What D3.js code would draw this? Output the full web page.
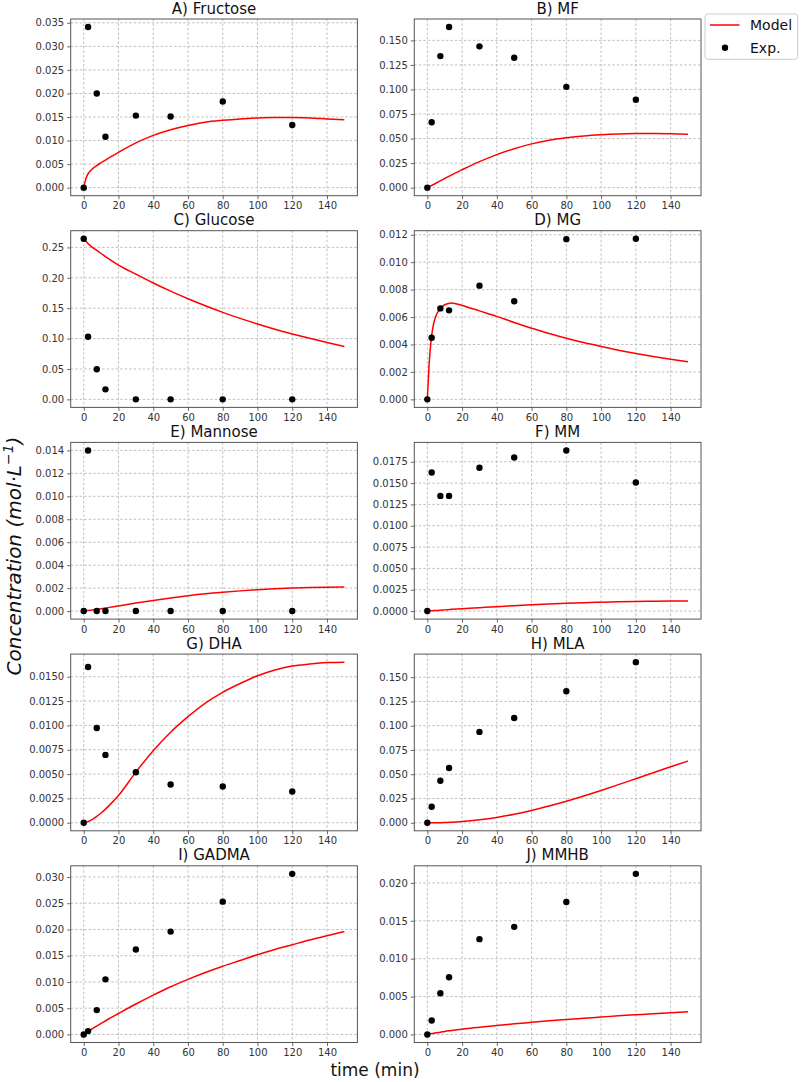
<!DOCTYPE html>
<html>
<head>
<meta charset="utf-8">
<script src="https://cdn.jsdelivr.net/npm/d3@7"></script>
<style>
  html, body { margin: 0; padding: 0; background: #fff; }
  svg { display: block; font-family: "DejaVu Sans", sans-serif; }
</style>
</head>
<body>
<svg id="chart" width="801" height="1082"></svg>
<script>
// ---- data ----
const panelTitles = ["A) Fructose", "B) MF", "C) Glucose", "D) MG", "E) Mannose",
                     "F) MM", "G) DHA", "H) MLA", "I) GADMA", "J) MMHB"];
const expTime = [0, 2.5, 7.5, 12.5, 30, 50, 80, 120];
const expFructose = [0, 0.0341, 0.0200, 0.0108, 0.0153, 0.0151, 0.0183, 0.0133];
const expMF       = [0, 0.0667, 0.134, 0.1636, 0.1439, 0.1323, 0.1027, 0.0895];
const expGlucose  = [0.2643, 0.103, 0.0496, 0.0165, 0, 0, 0, 0];
const expMG       = [0, 0.00449, 0.00663, 0.00649, 0.00829, 0.00715, 0.01168, 0.01171];
const expMannose  = [0, 0.0140, 0, 0, 0, 0, 0, 0];
const expMM       = [0, 0.01625, 0.0135, 0.0135, 0.0168, 0.0180, 0.01883, 0.01507];
const expDHA      = [0, 0.0160, 0.00974, 0.00697, 0.00519, 0.00393, 0.00372, 0.00321];
const expMLA      = [0, 0.0165, 0.0433, 0.0564, 0.0936, 0.108, 0.1355, 0.1655];
const expGADMA    = [0, 0.00064, 0.00464, 0.0105, 0.0162, 0.0196, 0.0253, 0.0306];
const expMMHB     = [0, 0.00185, 0.00543, 0.00755, 0.01258, 0.0142, 0.01748, 0.0212];

const modelTime = [0, 1, 2, 3, 5, 7.5, 10, 14, 20, 30, 40, 50, 60, 70, 80, 90, 100, 110, 120, 130, 140, 150];
const modFructose = [0, 0.0016, 0.0026, 0.0032, 0.0040, 0.0047, 0.0053, 0.0062, 0.0075, 0.0095, 0.0111, 0.0123, 0.0132, 0.0139, 0.0143, 0.0146, 0.0148, 0.0149, 0.0149, 0.0148, 0.0146, 0.0144];
const modMF       = [0, 0.0009, 0.0018, 0.0027, 0.0045, 0.0070, 0.0093, 0.0130, 0.0182, 0.0265, 0.0337, 0.0397, 0.0446, 0.0483, 0.0508, 0.0527, 0.0539, 0.0547, 0.0551, 0.0552, 0.0550, 0.0545];
const modGlucose  = [0.264, 0.261, 0.258, 0.255, 0.250, 0.245, 0.240, 0.232, 0.221, 0.206, 0.1915, 0.178, 0.1655, 0.154, 0.1432, 0.1332, 0.124, 0.1155, 0.1077, 0.1004, 0.0935, 0.087];
const modMG       = [0, 0.0025, 0.0041, 0.0051, 0.0061, 0.0066, 0.0069, 0.00703, 0.00685, 0.00645, 0.00605, 0.0056, 0.00519, 0.0048, 0.00446, 0.00414, 0.00385, 0.00358, 0.00334, 0.00312, 0.00292, 0.00274];
const modMannose  = [0, 0.00002, 0.00004, 0.00006, 0.0001, 0.00015, 0.0002, 0.0003, 0.00045, 0.0007, 0.00093, 0.00114, 0.00133, 0.0015, 0.00164, 0.00176, 0.00186, 0.00194, 0.0020, 0.00205, 0.00208, 0.0021];
const modMM       = [0, 0.000015, 0.00003, 0.000045, 0.00007, 0.0001, 0.00014, 0.0002, 0.00028, 0.0004, 0.00052, 0.00063, 0.00074, 0.00083, 0.00091, 0.00098, 0.00104, 0.00109, 0.00113, 0.00115, 0.00117, 0.00118];
const modDHA      = [0, 0.00003, 0.00009, 0.00016, 0.00035, 0.00065, 0.0010, 0.00166, 0.0028, 0.0052, 0.0074, 0.0093, 0.0109, 0.0123, 0.0134, 0.0143, 0.0151, 0.0157, 0.0161, 0.0163, 0.01645, 0.0165];
const modMLA      = [0, 0, 0.00001, 0.00002, 0.00006, 0.00013, 0.00025, 0.0005, 0.0012, 0.0030, 0.0055, 0.0088, 0.0127, 0.0172, 0.0221, 0.0275, 0.0333, 0.0393, 0.0454, 0.0515, 0.0577, 0.0636];
const modGADMA    = [0, 0.0002, 0.0004, 0.0006, 0.0011, 0.0016, 0.0021, 0.0029, 0.0040, 0.0058, 0.0075, 0.0091, 0.0105, 0.0118, 0.0130, 0.0141, 0.0152, 0.0162, 0.0171, 0.0180, 0.0188, 0.0196];
const modMMHB     = [0, 0.00005, 0.0001, 0.00014, 0.00022, 0.0003, 0.0004, 0.00052, 0.0007, 0.00095, 0.00118, 0.0014, 0.0016, 0.0018, 0.00198, 0.00214, 0.0023, 0.00246, 0.0026, 0.00274, 0.00287, 0.0030];

const xTicks = [0, 20, 40, 60, 80, 100, 120, 140];
const yTickStep = [0.005, 0.025, 0.05, 0.002, 0.002, 0.0025, 0.0025, 0.025, 0.005, 0.005];
const yTickDecimals = [3, 3, 2, 3, 3, 4, 4, 3, 3, 3];
const legendLabels = ["Model", "Exp."];

const expSeries = [expFructose, expMF, expGlucose, expMG, expMannose, expMM, expDHA, expMLA, expGADMA, expMMHB];
const modSeries = [modFructose, modMF, modGlucose, modMG, modMannose, modMM, modDHA, modMLA, modGADMA, modMMHB];

// ---- layout ----
const svg = d3.select("#chart");
const colX = [70.7, 414.3];
const axW = 286.7, axH = 176.7, rowTop = 19, rowPitch = 211.7;

panelTitles.forEach((title, i) => {
  const col = i % 2, row = Math.floor(i / 2);
  const x0 = colX[col], y0 = rowTop + row * rowPitch;
  const g = svg.append("g").attr("transform", `translate(${x0},${y0})`);

  const x = d3.scaleLinear().domain([-7.5, 157.5]).range([0, axW]);
  const allY = expSeries[i].concat(modSeries[i]);
  const [lo, hi] = d3.extent(allY);
  const pad = (hi - lo) * 0.05;
  const y = d3.scaleLinear().domain([lo - pad, hi + pad]).range([axH, 0]);

  const step = yTickStep[i];
  const yTicks = d3.range(0, hi + pad + 1e-12, step).filter(v => v >= lo - pad - 1e-12);

  // grid
  g.append("g").selectAll("line").data(xTicks).join("line")
    .attr("x1", d => x(d)).attr("x2", d => x(d)).attr("y1", 0).attr("y2", axH)
    .attr("stroke", "#b0b0b0").attr("stroke-width", 0.8).attr("stroke-dasharray", "2.5,2");
  g.append("g").selectAll("line").data(yTicks).join("line")
    .attr("x1", 0).attr("x2", axW).attr("y1", d => y(d)).attr("y2", d => y(d))
    .attr("stroke", "#b0b0b0").attr("stroke-width", 0.8).attr("stroke-dasharray", "2.5,2");

  // axes
  const xAxis = d3.axisBottom(x).tickValues(xTicks).tickSize(3.5).tickPadding(3).tickFormat(d3.format("d"));
  const yAxis = d3.axisLeft(y).tickValues(yTicks).tickSize(3.5).tickPadding(3).tickFormat(d3.format(`.${yTickDecimals[i]}f`));
  const gx = g.append("g").attr("transform", `translate(0,${axH})`).call(xAxis);
  const gy = g.append("g").call(yAxis);
  [gx, gy].forEach(a => {
    a.select(".domain").remove();
    a.selectAll(".tick line").attr("stroke", "#444").attr("stroke-width", 0.8);
    a.selectAll(".tick text").attr("fill", "#333").style("font-size", "10px").style("font-family", "DejaVu Sans");
  });

  // frame
  g.append("rect").attr("x", 0).attr("y", 0).attr("width", axW).attr("height", axH)
    .attr("fill", "none").attr("stroke", "#555").attr("stroke-width", 1);

  // model line
  const line = d3.line().x((d, k) => x(modelTime[k])).y(d => y(d)).curve(d3.curveMonotoneX);
  g.append("path").datum(modSeries[i]).attr("d", line)
    .attr("fill", "none").attr("stroke", "#ff0000").attr("stroke-width", 1.5);

  // exp points
  g.append("g").selectAll("circle").data(expSeries[i]).join("circle")
    .attr("cx", (d, k) => x(expTime[k])).attr("cy", d => y(d)).attr("r", 3.2)
    .attr("fill", "#000");

  // title
  g.append("text").attr("x", axW / 2).attr("y", -5.5).attr("text-anchor", "middle")
    .style("font-size", "15px").attr("fill", "#111").text(title);
});

// legend
const lg = svg.append("g");
lg.append("rect").attr("x", 705).attr("y", 14).attr("width", 92.7).attr("height", 45.3)
  .attr("rx", 3).attr("fill", "#fff").attr("stroke", "#cccccc").attr("stroke-width", 1);
lg.append("line").attr("x1", 710).attr("x2", 739.5).attr("y1", 25).attr("y2", 25)
  .attr("stroke", "#ff0000").attr("stroke-width", 1.5);
lg.append("circle").attr("cx", 725).attr("cy", 47.7).attr("r", 3.2).attr("fill", "#000");
lg.selectAll("text").data(legendLabels).join("text")
  .attr("x", 750).attr("y", (d, k) => 30 + k * 22.7)
  .style("font-size", "14px").attr("fill", "#111").text(d => d);

// axis labels
svg.append("text").attr("x", 375).attr("y", 1076).attr("text-anchor", "middle")
  .style("font-size", "17px").attr("fill", "#111").text("time (min)");
const yl = svg.append("text").attr("transform", "translate(21,556) rotate(-90)")
  .attr("text-anchor", "middle").style("font-size", "20px").style("font-style", "italic").attr("fill", "#111");
yl.append("tspan").text("Concentration (mol·L");
yl.append("tspan").attr("dy", -8).style("font-size", "14px").text("−1");
yl.append("tspan").attr("dy", 8).text(")");
</script>
</body>
</html>
